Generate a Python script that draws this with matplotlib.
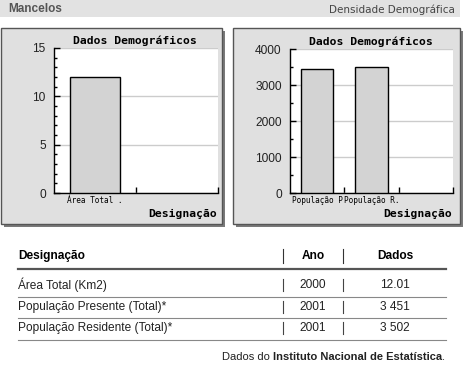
import matplotlib.pyplot as plt
from matplotlib.patches import Rectangle
from matplotlib.ticker import MultipleLocator

# data
left_labels = ["Área Total ."]
left_values = [12.01]
right_labels = ["População P", "População R."]
right_values = [3451, 3502]

table_header = ["Designação", "Ano", "Dados"]
row_names = ["Área Total (Km2)", "População Presente (Total)*", "População Residente (Total)*"]
row_years = ["2000", "2001", "2001"]
row_values = ["12.01", "3 451", "3 502"]

W, H = 463, 379
fig = plt.figure(figsize=(W / 100, H / 100), dpi=100)
bg = fig.add_axes([0, 0, 1, 1])
bg.set_xlim(0, W)
bg.set_ylim(H, 0)
bg.axis("off")

sans = "Liberation Sans"
mono = "DejaVu Sans Mono"

# header strip
bg.add_patch(Rectangle((0, 0), 460, 17, color="#e2e2e2", lw=0))
bg.text(8, 9, "Mancelos", fontsize=8.5, fontweight="bold", color="#555555",
        family=sans, va="center")
bg.text(455, 9.5, "Densidade Demográfica", fontsize=7.5, color="#444444",
        family="DejaVu Sans", va="center", ha="right")


def panel(x0, x1, y0, y1):
    bg.add_patch(Rectangle((x0 + 3, y0 + 3), x1 - x0, y1 - y0, color="#7a7a7a", lw=0))
    bg.add_patch(Rectangle((x0, y0), x1 - x0, y1 - y0, facecolor="#e0e0e0",
                           edgecolor="#555555", lw=1))


panel(1, 222, 28, 224)
panel(233, 460, 28, 224)


def bar_chart(px0, px1, py0, py1, labels, values, nslots, ymax, major, minor,
              title, cx):
    ax = fig.add_axes([px0 / W, 1 - py1 / H, (px1 - px0) / W, (py1 - py0) / H])
    ax.set_facecolor("white")
    pos = list(range(len(values)))
    ax.bar(pos, values, width=0.6, color="#d3d3d3", edgecolor="black", lw=1, zorder=3)
    ax.set_xlim(-0.5, nslots - 0.5)
    ax.set_ylim(0, ymax)
    ax.yaxis.set_major_locator(MultipleLocator(major))
    ax.yaxis.set_minor_locator(MultipleLocator(minor))
    ax.grid(axis="y", which="major", color="#cccccc", lw=1, zorder=0)
    ax.tick_params(axis="y", which="major", direction="in", length=4, width=1,
                   labelsize=8.6, pad=6, labelcolor="#222222")
    for t in ax.get_yticklabels():
        t.set_family(sans)
    ax.tick_params(axis="y", which="minor", direction="in", length=2.5, width=1)
    ax.set_xticks([i + 0.5 for i in range(nslots)])
    ax.set_xticklabels([])
    ax.set_xticks(pos, minor=True)
    ax.set_xticklabels(labels, minor=True, fontsize=5.6, family=mono)
    ax.tick_params(axis="x", which="major", direction="in", length=4, width=1)
    ax.tick_params(axis="x", which="minor", length=0, pad=2)
    for s in ["top", "right"]:
        ax.spines[s].set_visible(False)
    for s in ["left", "bottom"]:
        ax.spines[s].set_linewidth(1)
    bg.text(cx, py0 - 7, title, fontsize=8.2, fontweight="bold", family=mono,
            ha="center", va="center")
    bg.text(px1 - 1, py1 + 21, "Designação", fontsize=8.2, fontweight="bold",
            family=mono, ha="right", va="center")
    return ax


bar_chart(54, 218, 48, 193, left_labels, left_values, 2, 15, 5, 1,
          "Dados Demográficos", 135)
bar_chart(290, 453, 49, 193, right_labels, right_values, 3, 4000, 1000, 500,
          "Dados Demográficos", 371)

# table
fs = 8.6
hy = 256
bg.text(18, hy, table_header[0], fontsize=fs, fontweight="bold", family=sans, va="center")
bg.text(313, hy, table_header[1], fontsize=fs, fontweight="bold", family=sans,
        va="center", ha="center")
bg.text(395, hy, table_header[2], fontsize=fs, fontweight="bold", family=sans,
        va="center", ha="center")
for x in [283, 343]:
    bg.plot([x, x], [hy - 7, hy + 7], color="#333333", lw=0.8)
bg.plot([18, 446], [269, 269], color="#555555", lw=1.6)

row_y = [285, 307, 328]
line_y = [297, 318, 340]
for i, y in enumerate(row_y):
    bg.text(18, y, row_names[i], fontsize=fs, family=sans, va="center", color="#222222")
    bg.text(313, y, row_years[i], fontsize=fs, family=sans, va="center",
            ha="center", color="#222222")
    bg.text(395, y, row_values[i], fontsize=fs, family=sans, va="center",
            ha="center", color="#222222")
    for x in [283, 343]:
        bg.plot([x, x], [y - 6, y + 6], color="#444444", lw=0.8)
    bg.plot([18, 446], [line_y[i], line_y[i]], color="#888888", lw=0.8)

# footer: regular + bold + regular pieces laid out right to left
renderer = fig.canvas.get_renderer()
x = 445
for txt, wgt in [(".", "normal"), ("Instituto Nacional de Estatística", "bold"),
                 ("Dados do ", "normal")]:
    t = bg.text(x, 357, txt, fontsize=8, family=sans, fontweight=wgt,
                ha="right", va="center", color="#222222")
    w = t.get_window_extent(renderer).width
    x -= w

fig.savefig("out.png", dpi=100)
